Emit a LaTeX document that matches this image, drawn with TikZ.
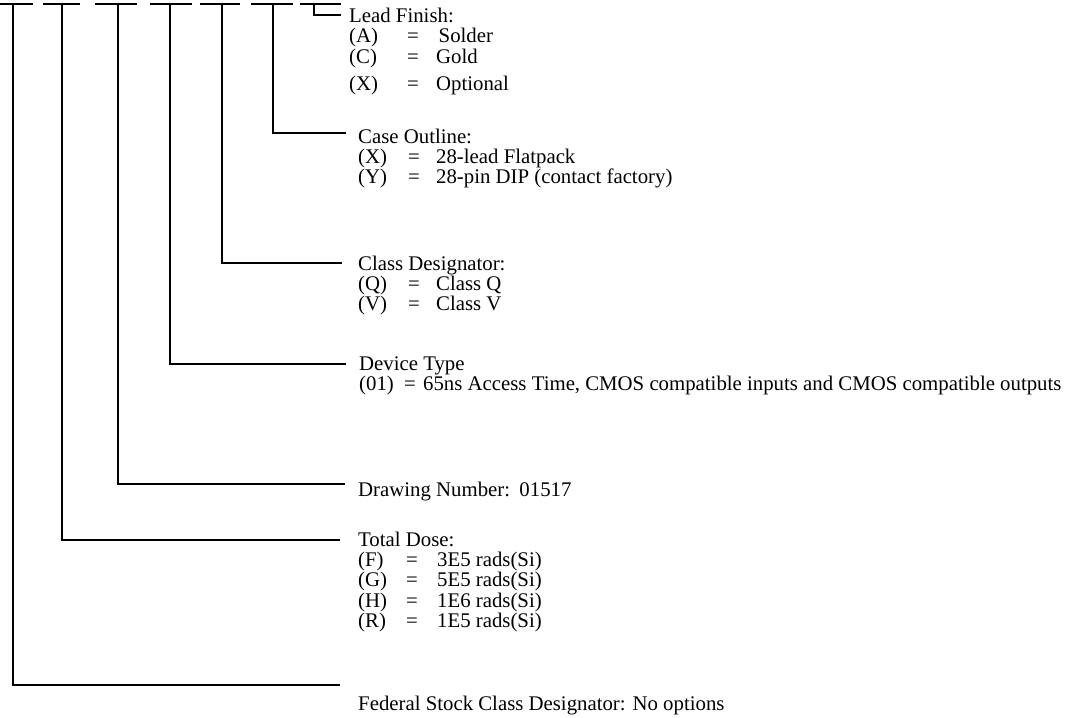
\documentclass[tikz,border=0pt]{standalone}
\usepackage{fontspec}
\setmainfont{Liberation Serif}
\newcommand\optline[4]{\hbox{\makebox[#1][l]{#3}\makebox[#2][l]{=}#4}}
\tikzset{
  wire/.style={line width=2.8pt},
  blocktext/.style={anchor=base west, inner sep=0pt, font=\fontsize{20.8}{20.4}\selectfont},
}
\begin{document}
\begin{tikzpicture}[x=1pt,y=-1pt]
\useasboundingbox (0,0) rectangle (1070,717);
% top bars
\foreach \a/\b in {0/33,43/80,95/137,150/192,200/240,251/293,300/341}
  \draw[wire] (\a,4) -- (\b,4);
% anchor coordinates
\coordinate (t1) at (13,4);
\coordinate (t2) at (62,4);
\coordinate (t3) at (118,4);
\coordinate (t4) at (170,4);
\coordinate (t5) at (222,4);
\coordinate (t6) at (273,4);
\coordinate (t7) at (314,4);
\coordinate (e1) at (340,685);
\coordinate (e2) at (340,540);
\coordinate (e3) at (345,484);
\coordinate (e4) at (346,364);
\coordinate (e5) at (342,263);
\coordinate (e6) at (346,133);
\coordinate (e7) at (341,15);
% text blocks
\node[blocktext] (lead) at (349,22.5) {\vtop{\hbox{Lead Finish:}%
  \optline{58pt}{30pt}{(A)}{\hspace{1.5pt}Solder}%
  \optline{58pt}{29pt}{(C)}{Gold}%
  \vskip7.3pt
  \optline{58pt}{29pt}{(X)}{Optional}}};
\node[blocktext] (case) at (358,143) {\vtop{\hbox{Case Outline:}%
  \optline{50pt}{28pt}{(X)}{28-lead Flatpack}%
  \optline{50pt}{28pt}{(Y)}{28-pin DIP (contact factory)}}};
\node[blocktext] (class) at (358,270) {\vtop{\hbox{Class Designator:}%
  \optline{50pt}{28pt}{(Q)}{Class Q}%
  \optline{50pt}{28pt}{(V)}{Class V}}};
\node[blocktext] (dev) at (359,370) {\vtop{\hbox{Device Type}%
  \optline{45pt}{19pt}{(01)}{65ns Access Time, CMOS compatible inputs and CMOS compatible outputs}}};
\node[blocktext] (draw) at (358,496) {Drawing Number:\hspace{0.45em}01517};
\node[blocktext] (dose) at (358,546) {\vtop{\hbox{Total Dose:}%
  \optline{48pt}{31pt}{(F)}{3E5 rads(Si)}%
  \optline{48pt}{31pt}{(G)}{5E5 rads(Si)}%
  \optline{48pt}{31pt}{(H)}{1E6 rads(Si)}%
  \optline{48pt}{31pt}{(R)}{1E5 rads(Si)}}};
\node[blocktext] (fed) at (358,710) {Federal Stock Class Designator: No options};
% connectors
\draw[wire] (t1) |- (e1);
\draw[wire] (t2) |- (e2);
\draw[wire] (t3) |- (e3);
\draw[wire] (t4) |- (e4);
\draw[wire] (t5) |- (e5);
\draw[wire] (t6) |- (e6);
\draw[wire] (t7) |- (e7);
\end{tikzpicture}
\end{document}
